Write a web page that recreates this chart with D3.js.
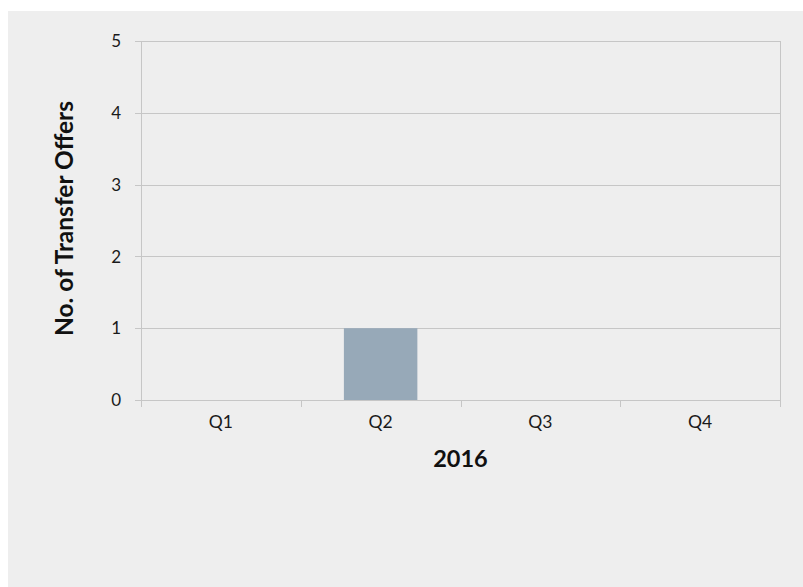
<!DOCTYPE html>
<html lang="en">
<head>
    <meta charset="UTF-8">
    <title>Transfer Offers 2016</title>
    <script src="https://cdn.jsdelivr.net/npm/d3@7"></script>
    <style>
        body { margin: 0; background: #ffffff; }
        text { font-family: Lato, "Open Sans", sans-serif; }
    </style>
</head>
<body>
<script>
    // data
    var quarters = ["Q1", "Q2", "Q3", "Q4"];
    var offers = [0, 1, 0, 0];
    var yTicks = [0, 1, 2, 3, 4, 5];
    var xTitle = "2016";
    var yTitle = "No. of Transfer Offers";

    var width = 803, height = 587;
    var plot = {left: 141, right: 780, top: 41, bottom: 400};

    var svg = d3.select("body").append("svg")
        .attr("width", width)
        .attr("height", height);

    // grey panel
    svg.append("rect")
        .attr("x", 8).attr("y", 11)
        .attr("width", width - 8).attr("height", height - 11)
        .attr("fill", "#eeeeee");

    var x = d3.scaleBand()
        .domain(quarters)
        .range([plot.left, plot.right])
        .paddingInner(0.54)
        .paddingOuter(0.27);
    var xOuter = d3.scaleBand().domain(quarters).range([plot.left, plot.right]);

    var y = d3.scaleLinear()
        .domain([0, 5])
        .range([plot.bottom, plot.top]);

    // gridlines
    svg.append("g")
        .selectAll("line")
        .data(yTicks)
        .enter()
        .append("line")
        .attr("x1", plot.left - 6)
        .attr("x2", plot.right)
        .attr("y1", function (d) { return Math.round(y(d)) + 0.5; })
        .attr("y2", function (d) { return Math.round(y(d)) + 0.5; })
        .attr("stroke", "#c6c6c6")
        .attr("stroke-width", 1);

    // left axis line and right border
    [plot.left, plot.right].forEach(function (px) {
        svg.append("line")
            .attr("x1", px + 0.5).attr("x2", px + 0.5)
            .attr("y1", plot.top).attr("y2", plot.bottom + 7)
            .attr("stroke", "#c6c6c6");
    });

    // category ticks
    svg.append("g")
        .selectAll("line")
        .data(quarters.slice(1))
        .enter()
        .append("line")
        .attr("x1", function (d) { return Math.round(xOuter(d)) + 0.5; })
        .attr("x2", function (d) { return Math.round(xOuter(d)) + 0.5; })
        .attr("y1", plot.bottom)
        .attr("y2", plot.bottom + 7)
        .attr("stroke", "#c6c6c6");

    // bars
    svg.append("g")
        .selectAll("rect")
        .data(offers)
        .enter()
        .append("rect")
        .attr("x", function (d, i) { return x(quarters[i]); })
        .attr("y", function (d) { return y(d); })
        .attr("width", x.bandwidth())
        .attr("height", function (d) { return y(0) - y(d); })
        .attr("fill", "#97a9b8");

    // y tick labels
    svg.append("g")
        .selectAll("text")
        .data(yTicks)
        .enter()
        .append("text")
        .attr("x", 121)
        .attr("y", function (d) { return y(d); })
        .attr("dy", "0.36em")
        .attr("text-anchor", "end")
        .attr("font-size", 17)
        .attr("fill", "#1a1a1a")
        .text(function (d) { return d; });

    // x tick labels
    svg.append("g")
        .selectAll("text")
        .data(quarters)
        .enter()
        .append("text")
        .attr("x", function (d) { return xOuter(d) + xOuter.bandwidth() / 2; })
        .attr("y", 428)
        .attr("text-anchor", "middle")
        .attr("font-size", 17.5)
        .attr("fill", "#1a1a1a")
        .text(function (d) { return d; });

    // axis titles
    svg.append("text")
        .attr("x", (plot.left + plot.right) / 2)
        .attr("y", 467)
        .attr("text-anchor", "middle")
        .attr("font-size", 23.5)
        .attr("font-weight", "bold")
        .attr("fill", "#111")
        .text(xTitle);

    svg.append("text")
        .attr("transform", "translate(73," + ((plot.top + plot.bottom) / 2 - 2) + ") rotate(-90)")
        .attr("text-anchor", "middle")
        .attr("font-size", 24.5)
        .attr("font-weight", "bold")
        .attr("fill", "#111")
        .text(yTitle);
</script>
</body>
</html>
